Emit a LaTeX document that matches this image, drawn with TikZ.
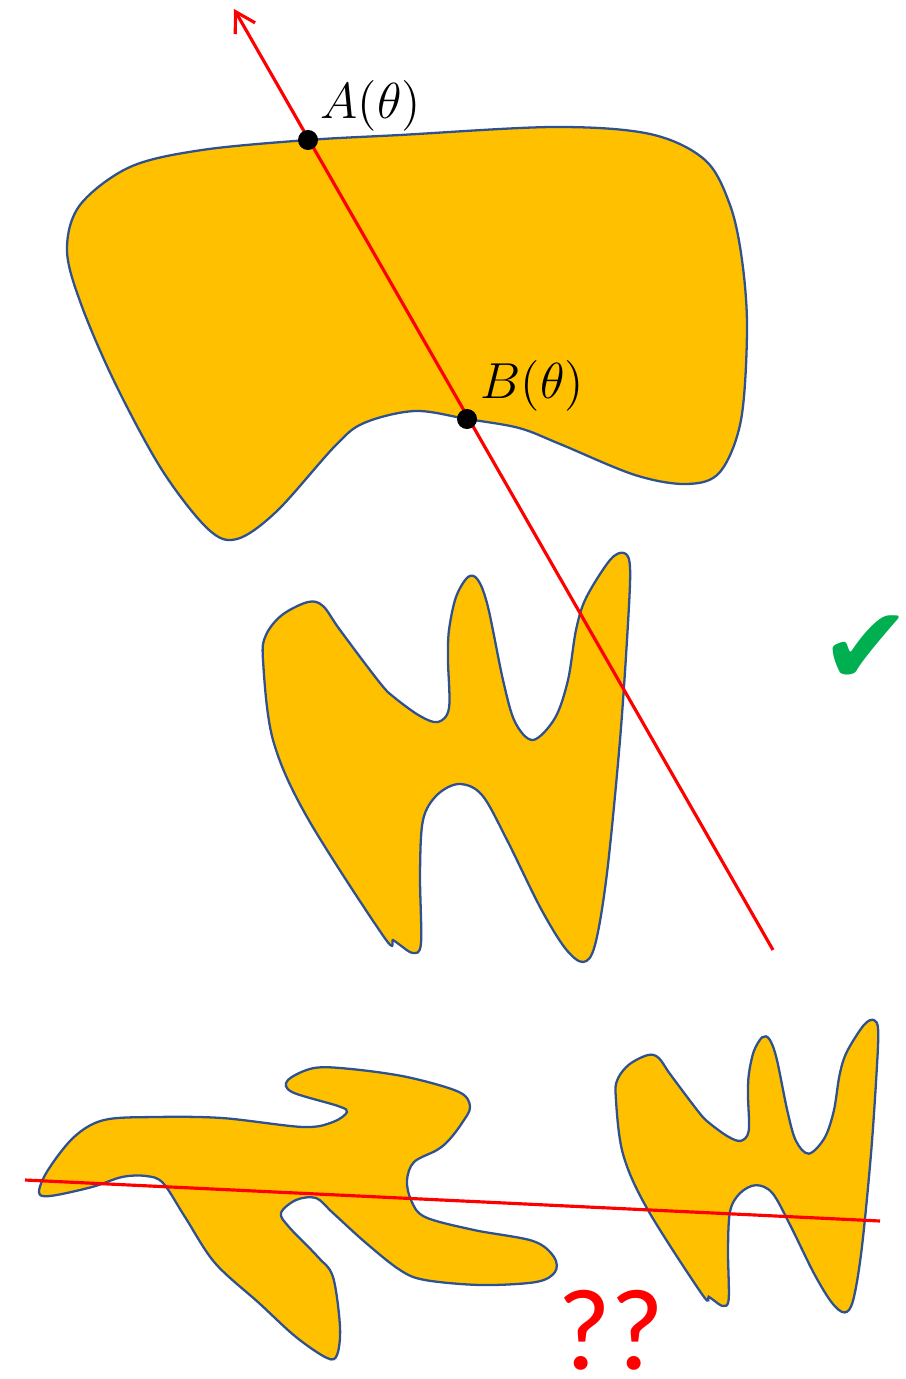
\documentclass[tikz,border=0pt]{standalone}
\usepackage{fontspec}
\newfontfamily\symfont{DejaVu Sans}
\newfontfamily\qfont{Carlito}
\usetikzlibrary{arrows.meta}
\definecolor{blobfill}{HTML}{FFC000}
\definecolor{blobline}{HTML}{2F528F}
\definecolor{redline}{HTML}{FF0000}
\definecolor{okgreen}{HTML}{00B050}
\tikzset{
  blob/.style={draw=blobline, fill=blobfill, line width=0.65pt},
  ray/.style={draw=redline, line width=0.9pt},
  dot/.style={circle, fill=black, inner sep=0pt, minimum size=0.2cm},
  lbl/.style={inner sep=0pt, font=\fontsize{13.5}{16}\selectfont},
  hshape/.pic={
    \path[blob] plot[smooth cycle, tension=0.55] coordinates {
      (308,602) (323,606) (340,630) (380,683) (395,698) (420,716) (438,722)
      (449,708) (448,660) (449,630) (456,597) (468,577) (478,580) (488,607)
      (503,680) (515,722) (533,740) (555,718) (568,680) (576,630) (586,598)
      (610,560) (624,553) (630,567) (628,623) (620,740) (607,873) (595,945)
      (583,962) (565,948) (540,907) (507,840) (482,795) (459,784) (437,795)
      (423,820) (420,873) (421,943) (413,953) (400,945) (393,940) (384,937)
      (307,817) (273,740) (263,660) (266,635) (282,615)
    };
  }
}
\begin{document}
\begin{tikzpicture}[x=0.01cm, y=-0.01cm]
\useasboundingbox (0,0) rectangle (905,1379);

% top blob
\path[blob] plot[smooth cycle, tension=0.55] coordinates {
  (308,140) (400,135) (554,127) (650,134) (705,160) (730,205) (742,260)
  (747,329) (741,420) (720,472) (687,484) (635,475) (560,444) (519,428)
  (467,419) (415,411) (364,423) (335,446) (277,511) (237,539) (208,529)
  (162,470) (115,383) (81,304) (67,250) (80,205) (130,167) (202,150)
};

% middle H
\pic at (0,0) {hshape};

% long red ray
\coordinate (rs) at (773,950);
\coordinate (re) at (234,9);
\draw[ray, -{Straight Barb[length=5.5pt,width=6.5pt]}] (rs) -- (re);

% A and B points
\node[dot] (A) at (308,140) {};
\node[dot] (B) at (467,419) {};
\node[lbl, anchor=base west] (Alab) at (320,119) {$A(\theta)$};
\node[lbl, anchor=base west] (Blab) at (480,398) {$B(\theta)$};

% check mark
\node[inner sep=0pt, text=okgreen, font=\symfont\fontsize{31}{34}\selectfont] (ok) at (866,650) {✔};

% bottom left blob
\path[blob] plot[smooth cycle, tension=0.55] coordinates {
  (39,1192) (48,1170) (74,1137) (104,1120) (155,1117) (222,1118) (303,1127)
  (333,1122) (347,1112) (338,1106) (292,1092) (288,1080) (314,1068) (351,1069)
  (407,1077) (459,1092) (470,1107) (462,1123) (449,1140) (437,1150) (414,1162)
  (407,1180) (411,1200) (425,1217) (474,1230) (533,1241) (554,1257) (555,1272)
  (536,1282) (481,1285) (425,1280) (400,1270) (366,1243) (333,1213) (316,1198)
  (296,1200) (281,1213) (289,1227) (318,1257) (333,1277) (340,1327) (337,1355)
  (327,1358) (296,1337) (259,1303) (215,1263) (185,1217) (163,1183) (146,1176)
  (122,1177) (92,1187) (50,1196)
};

% bottom right small H
\pic[scale=0.715] at (427.7,624.6) {hshape};

% nearly horizontal red line
\coordinate (ls) at (25,1180);
\coordinate (le) at (880,1221);
\draw[ray] (ls) -- (le);

% question marks
\node[inner sep=0pt, anchor=base, text=redline, font=\qfont\fontsize{33}{36}\selectfont] (qq) at (611,1369) {??};
\end{tikzpicture}
\end{document}
